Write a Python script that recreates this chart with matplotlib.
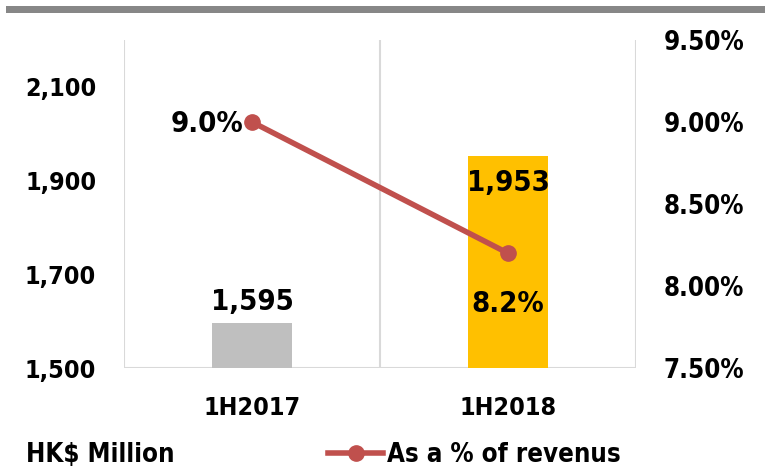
import matplotlib
matplotlib.use("Agg")
import matplotlib.pyplot as plt
from matplotlib import font_manager as fm
from matplotlib.ticker import FuncFormatter, FixedLocator

categories = ["1H2017", "1H2018"]
revenue = [1595, 1953]
pct = [9.0, 8.2]
left_ticks = [1500, 1700, 1900, 2100]
right_ticks = [7.5, 8.0, 8.5, 9.0, 9.5]
bar_colors = ["#BFBFBF", "#FFC000"]
line_color = "#C0504D"
legend_label = "As a % of revenus"
unit_label = "HK$ Million"

# pick a condensed bold font if available
family = "DejaVu Sans"
stretch = "normal"
scale = 0.89
try:
    p = fm.findfont(fm.FontProperties(family="DejaVu Sans", stretch="condensed", weight="bold"), fallback_to_default=False)
    if "Condensed" in p:
        stretch = "condensed"
        scale = 1.0
except Exception:
    pass

fs = 18 * scale
fs_data = 21 * scale
fs_leg = 18.5 * scale

plt.rcParams["font.family"] = family
plt.rcParams["font.stretch"] = stretch
plt.rcParams["font.weight"] = "bold"

W, H = 765, 470
fig = plt.figure(figsize=(W / 100, H / 100), dpi=100)
ax = fig.add_axes([124 / W, (H - 368) / H, (636 - 124) / W, 328 / H])

x = list(range(len(categories)))
bars = ax.bar(x, revenue, width=0.3125, color=bar_colors, zorder=2)
ax.set_xlim(-0.5, 1.5)
ax.set_ylim(1500, 2200)
ax.yaxis.set_major_locator(FixedLocator(left_ticks))
ax.yaxis.set_major_formatter(FuncFormatter(lambda v, p: f"{int(v):,}"))
ax.set_xticks(x)
ax.set_xticklabels(categories)
for s in ax.spines.values():
    s.set_visible(False)
ax.tick_params(axis="both", length=0, labelsize=fs)
ax.tick_params(axis="y", pad=20)
ax.tick_params(axis="x", pad=20)
for xv in [-0.5, 0.5, 1.5]:
    ax.axvline(xv, color="#D9D9D9", lw=1.5, zorder=1)
ax.axhline(1500, color="#D9D9D9", lw=1.5, zorder=1)

ax2 = ax.twinx()
ax2.set_ylim(7.5, 9.5)
ax2.yaxis.set_major_locator(FixedLocator(right_ticks))
ax2.yaxis.set_major_formatter(FuncFormatter(lambda v, p: f"{v:.2f}%"))
for s in ax2.spines.values():
    s.set_visible(False)
ax2.tick_params(axis="y", length=0, labelsize=fs * 1.03, pad=20)
line, = ax2.plot(x, pct, color=line_color, lw=4, marker="o", markersize=11, zorder=3, label=legend_label)

# data labels
ax.annotate(f"{revenue[0]:,}", (x[0], revenue[0]), xytext=(0, 21), textcoords="offset pixels",
            ha="center", va="center", fontsize=fs_data, fontweight="bold")
ax.annotate(f"{revenue[1]:,}", (x[1], revenue[1]), xytext=(0, -27), textcoords="offset pixels",
            ha="center", va="center", fontsize=fs_data, fontweight="bold")
ax2.annotate(f"{pct[0]:.1f}%", (x[0], pct[0]), xytext=(-9, -2), textcoords="offset pixels",
             ha="right", va="center", fontsize=fs_data, fontweight="bold")
ax2.annotate(f"{pct[1]:.1f}%", (x[1], pct[1]), xytext=(0, -51), textcoords="offset pixels",
             ha="center", va="center", fontsize=fs_data, fontweight="bold")

# top band
fig.add_artist(plt.Rectangle((6 / W, 1 - 12.7 / H), (W - 6) / W, 6.7 / H, transform=fig.transFigure,
                             color="#878787", lw=0))

fig.text(26 / W, 1 - 455 / H, unit_label, ha="left", va="center", fontsize=fs_leg, fontweight="bold")
fig.legend(handles=[line], loc="center left", bbox_to_anchor=(328 / W, 1 - 455 / H),
           frameon=False, borderpad=0, borderaxespad=0, handlelength=2.15, handletextpad=0.15,
           prop={"size": fs_leg, "weight": "bold", "family": family, "stretch": stretch})

fig.savefig("out.png", dpi=100)
